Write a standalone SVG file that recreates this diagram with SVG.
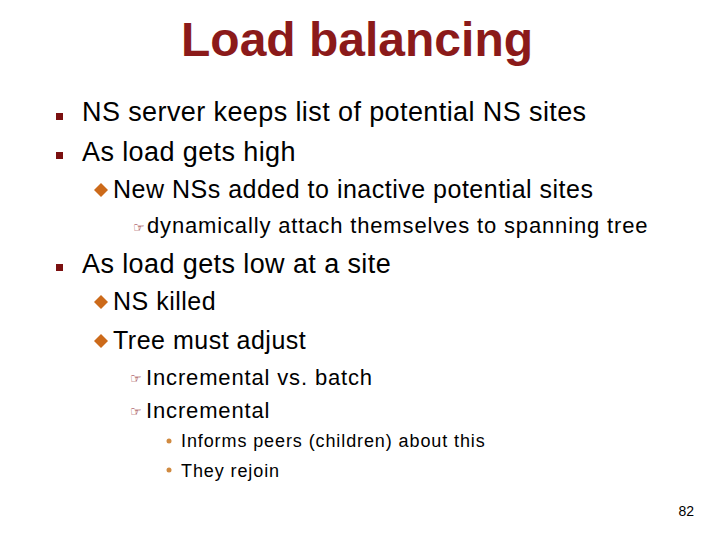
<svg xmlns="http://www.w3.org/2000/svg" width="720" height="540" viewBox="0 0 720 540">
<style>
text{font-family:"Liberation Sans",Arial,sans-serif;fill:#000}
.t{font-size:48px;font-weight:bold;fill:#8B1A1A}
.l1{font-size:27px;letter-spacing:0.4px}.l2{font-size:25px;letter-spacing:0.5px}.l3{font-size:22px;letter-spacing:0.85px}.l4{font-size:18px;letter-spacing:0.9px}
.sq{fill:#7B1010}.dm{fill:#CC6A1A}
.h{font-family:"DejaVu Sans",sans-serif;fill:#8B1A1A;font-size:13px}
.dt{fill:#D08A40}
</style>
<rect width="720" height="540" fill="#fff"/>
<text class="t" x="357" y="56" text-anchor="middle">Load balancing</text>
<rect class="sq" x="56" y="113" width="7" height="7"/>
<text class="l1" x="82" y="121">NS server keeps list of potential NS sites</text>
<rect class="sq" x="56" y="152" width="7" height="7"/>
<text class="l1" x="82" y="161">As load gets high</text>
<path class="dm" d="M101 183l7 7-7 7-7-7z"/>
<text class="l2" x="113" y="198">New NSs added to inactive potential sites</text>
<text class="h" x="133" y="232">☞</text>
<text class="l3" x="147" y="233">dynamically attach themselves to spanning tree</text>
<rect class="sq" x="56" y="264" width="7" height="7"/>
<text class="l1" x="82" y="273">As load gets low at a site</text>
<path class="dm" d="M101 295l7 7-7 7-7-7z"/>
<text class="l2" x="113" y="310">NS killed</text>
<path class="dm" d="M101 334l7 7-7 7-7-7z"/>
<text class="l2" x="113" y="349">Tree must adjust</text>
<text class="h" x="130" y="383">☞</text>
<text class="l3" x="146" y="385">Incremental vs. batch</text>
<text class="h" x="130" y="416">☞</text>
<text class="l3" x="146" y="418">Incremental</text>
<circle class="dt" cx="169" cy="441" r="2.5"/>
<text class="l4" x="181" y="447">Informs peers (children) about this</text>
<circle class="dt" cx="169" cy="470" r="2.5"/>
<text class="l4" x="181" y="477">They rejoin</text>
<text x="694" y="516" font-size="14" text-anchor="end">82</text>
</svg>
